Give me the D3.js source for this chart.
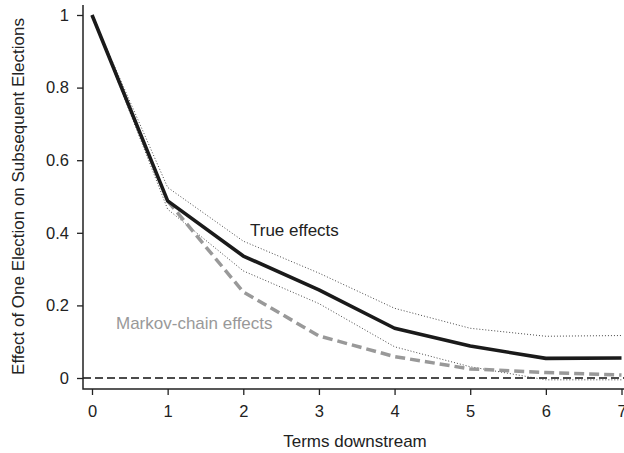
<!DOCTYPE html>
<html><head><meta charset="utf-8">
<script src="https://cdn.jsdelivr.net/npm/d3@7"></script>
<style>
html,body{margin:0;padding:0;background:#fff;}
svg text{font-family:"Liberation Sans",Arial,Helvetica,sans-serif;}
</style></head>
<body>
<svg id="chart" width="624" height="453"></svg>
<script>
const terms = [0, 1, 2, 3, 4, 5, 6, 7];
const trueEffects = [1, 0.488, 0.336, 0.243, 0.137, 0.088, 0.054, 0.055];
const upperCI = [1, 0.525, 0.377, 0.289, 0.192, 0.137, 0.115, 0.117];
const lowerCI = [1, 0.465, 0.295, 0.205, 0.086, 0.031, -0.005, -0.005];
const markovTerms = [1, 2, 3, 4, 5, 6, 7];
const markovEffects = [0.488, 0.237, 0.116, 0.059, 0.025, 0.015, 0.008];
const xTicks = [0, 1, 2, 3, 4, 5, 6, 7];
const yTicks = [0, 0.2, 0.4, 0.6, 0.8, 1];
const yTickLabels = ["0", "0.2", "0.4", "0.6", "0.8", "1"];

const svg = d3.select("#chart");
const x = d3.scaleLinear().domain([0, 7]).range([92, 621.5]);
const y = d3.scaleLinear().domain([0, 1]).range([378, 15]);
const frameLeft = 83, frameBottom = 389, frameTop = 5, frameRight = 624;
const ink = "#222";

// zero reference line
svg.append("line")
  .attr("x1", frameLeft).attr("x2", frameRight)
  .attr("y1", y(0)).attr("y2", y(0))
  .attr("stroke", "#111").attr("stroke-width", 1.4)
  .attr("stroke-dasharray", "8,4");

const line = d3.line().x(d => x(d[0])).y(d => y(d[1]));

// CI dotted
[upperCI, lowerCI].forEach(ci => {
  svg.append("path")
    .attr("d", line(terms.map((t, i) => [t, ci[i]])))
    .attr("fill", "none").attr("stroke", "#333").attr("stroke-width", 0.9)
    .attr("stroke-dasharray", "1,2");
});

// Markov dashed
svg.append("path")
  .attr("d", line(markovTerms.map((t, i) => [t, markovEffects[i]])))
  .attr("fill", "none").attr("stroke", "#999").attr("stroke-width", 3.5)
  .attr("stroke-dasharray", "10,5");

// True effects
svg.append("path")
  .attr("d", line(terms.map((t, i) => [t, trueEffects[i]])))
  .attr("fill", "none").attr("stroke", "#1a1a1a").attr("stroke-width", 3.6)
  .attr("stroke-linejoin", "round");

// frame (L)
svg.append("path")
  .attr("d", `M${frameLeft},${frameTop}V${frameBottom}H${frameRight}`)
  .attr("fill", "none").attr("stroke", ink).attr("stroke-width", 1.5);

// x axis
const xAxis = d3.axisBottom(x).tickValues(xTicks).tickSize(6).tickPadding(10)
  .tickFormat(d3.format("d"));
const gx = svg.append("g").attr("transform", `translate(0,${frameBottom})`).call(xAxis);
gx.select(".domain").remove();
gx.selectAll(".tick line").attr("stroke", ink).attr("stroke-width", 1.3);
gx.selectAll(".tick text").attr("fill", ink).attr("font-size", 16.5)
  .attr("font-family", "'Liberation Sans',Arial,sans-serif");

// y axis
const yAxis = d3.axisLeft(y).tickValues(yTicks).tickSize(6).tickPadding(8)
  .tickFormat((d, i) => yTickLabels[i]);
const gy = svg.append("g").attr("transform", `translate(${frameLeft},0)`).call(yAxis);
gy.select(".domain").remove();
gy.selectAll(".tick line").attr("stroke", ink).attr("stroke-width", 1.3);
gy.selectAll(".tick text").attr("fill", ink).attr("font-size", 16.5)
  .attr("font-family", "'Liberation Sans',Arial,sans-serif");

// axis titles
svg.append("text").attr("x", 355).attr("y", 447).attr("text-anchor", "middle")
  .attr("font-size", 17).attr("fill", ink).text("Terms downstream");
svg.append("text")
  .attr("transform", `translate(24,${(y(0)+y(1))/2}) rotate(-90)`)
  .attr("text-anchor", "middle").attr("font-size", 17).attr("fill", ink)
  .text("Effect of One Election on Subsequent Elections");

// annotations
svg.append("text").attr("x", 250).attr("y", 236).attr("font-size", 17)
  .attr("fill", ink).text("True effects");
svg.append("text").attr("x", 116).attr("y", 329).attr("font-size", 17)
  .attr("fill", "#999").text("Markov-chain effects");
</script>
</body></html>
